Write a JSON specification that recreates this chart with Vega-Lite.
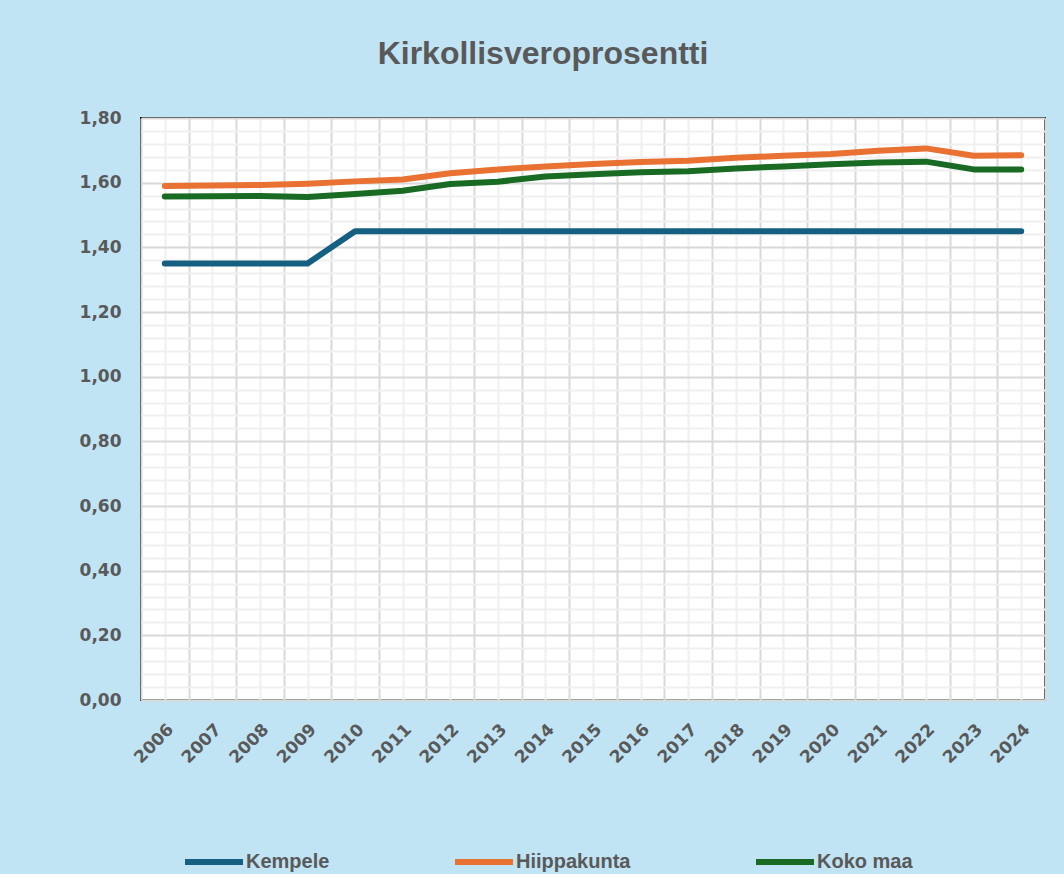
{
  "$schema": "https://vega.github.io/schema/vega-lite/v6.json",
  "width": 904,
  "height": 582,
  "autosize": {"type": "none"},
  "padding": {"left": 141, "top": 118, "right": 19, "bottom": 174},
  "background": "#C1E4F5",
  "config": {
    "view": {"fill": "white", "stroke": "#000000", "strokeWidth": 2},
    "axis": {"title": null}
  },
  "title": {
    "text": "Kirkollisveroprosentti",
    "font": "Liberation Sans",
    "fontSize": 32,
    "fontWeight": "bold",
    "color": "#595959",
    "anchor": "middle",
    "dx": -50,
    "offset": 38
  },
  "data": {
    "values": [
      {"year": 2006, "series": "Kempele", "value": 1.35},
      {"year": 2007, "series": "Kempele", "value": 1.35},
      {"year": 2008, "series": "Kempele", "value": 1.35},
      {"year": 2009, "series": "Kempele", "value": 1.35},
      {"year": 2010, "series": "Kempele", "value": 1.45},
      {"year": 2011, "series": "Kempele", "value": 1.45},
      {"year": 2012, "series": "Kempele", "value": 1.45},
      {"year": 2013, "series": "Kempele", "value": 1.45},
      {"year": 2014, "series": "Kempele", "value": 1.45},
      {"year": 2015, "series": "Kempele", "value": 1.45},
      {"year": 2016, "series": "Kempele", "value": 1.45},
      {"year": 2017, "series": "Kempele", "value": 1.45},
      {"year": 2018, "series": "Kempele", "value": 1.45},
      {"year": 2019, "series": "Kempele", "value": 1.45},
      {"year": 2020, "series": "Kempele", "value": 1.45},
      {"year": 2021, "series": "Kempele", "value": 1.45},
      {"year": 2022, "series": "Kempele", "value": 1.45},
      {"year": 2023, "series": "Kempele", "value": 1.45},
      {"year": 2024, "series": "Kempele", "value": 1.45},
      {"year": 2006, "series": "Hiippakunta", "value": 1.590},
      {"year": 2007, "series": "Hiippakunta", "value": 1.591},
      {"year": 2008, "series": "Hiippakunta", "value": 1.593},
      {"year": 2009, "series": "Hiippakunta", "value": 1.597},
      {"year": 2010, "series": "Hiippakunta", "value": 1.604},
      {"year": 2011, "series": "Hiippakunta", "value": 1.610},
      {"year": 2012, "series": "Hiippakunta", "value": 1.629},
      {"year": 2013, "series": "Hiippakunta", "value": 1.641},
      {"year": 2014, "series": "Hiippakunta", "value": 1.650},
      {"year": 2015, "series": "Hiippakunta", "value": 1.658},
      {"year": 2016, "series": "Hiippakunta", "value": 1.664},
      {"year": 2017, "series": "Hiippakunta", "value": 1.668},
      {"year": 2018, "series": "Hiippakunta", "value": 1.677},
      {"year": 2019, "series": "Hiippakunta", "value": 1.683},
      {"year": 2020, "series": "Hiippakunta", "value": 1.689},
      {"year": 2021, "series": "Hiippakunta", "value": 1.699},
      {"year": 2022, "series": "Hiippakunta", "value": 1.706},
      {"year": 2023, "series": "Hiippakunta", "value": 1.683},
      {"year": 2024, "series": "Hiippakunta", "value": 1.685},
      {"year": 2006, "series": "Koko maa", "value": 1.557},
      {"year": 2007, "series": "Koko maa", "value": 1.558},
      {"year": 2008, "series": "Koko maa", "value": 1.559},
      {"year": 2009, "series": "Koko maa", "value": 1.556},
      {"year": 2010, "series": "Koko maa", "value": 1.565},
      {"year": 2011, "series": "Koko maa", "value": 1.575},
      {"year": 2012, "series": "Koko maa", "value": 1.596},
      {"year": 2013, "series": "Koko maa", "value": 1.603},
      {"year": 2014, "series": "Koko maa", "value": 1.619},
      {"year": 2015, "series": "Koko maa", "value": 1.626},
      {"year": 2016, "series": "Koko maa", "value": 1.632},
      {"year": 2017, "series": "Koko maa", "value": 1.635},
      {"year": 2018, "series": "Koko maa", "value": 1.644},
      {"year": 2019, "series": "Koko maa", "value": 1.650},
      {"year": 2020, "series": "Koko maa", "value": 1.657},
      {"year": 2021, "series": "Koko maa", "value": 1.662},
      {"year": 2022, "series": "Koko maa", "value": 1.665},
      {"year": 2023, "series": "Koko maa", "value": 1.641},
      {"year": 2024, "series": "Koko maa", "value": 1.641}
    ]
  },
  "resolve": {"axis": {"x": "independent", "y": "independent"}},
  "layer": [
    {
      "mark": {"type": "line", "strokeOpacity": 0},
      "encoding": {
        "x": {
          "field": "year",
          "type": "quantitative",
          "scale": {"domain": [2005.5, 2024.5], "nice": false, "zero": false},
          "axis": {
            "orient": "bottom",
            "values": [2005.5, 2006.5, 2007.5, 2008.5, 2009.5, 2010.5, 2011.5, 2012.5, 2013.5, 2014.5, 2015.5, 2016.5, 2017.5, 2018.5, 2019.5, 2020.5, 2021.5, 2022.5, 2023.5, 2024.5],
            "labels": false,
            "ticks": false,
            "domain": false,
            "grid": true,
            "gridColor": "#D9D9D9",
            "gridWidth": 2
          }
        },
        "y": {
          "field": "value",
          "type": "quantitative",
          "scale": {"domain": [0, 1.8], "nice": false},
          "axis": {
            "orient": "left",
            "values": [0.04, 0.08, 0.12, 0.16, 0.24, 0.28, 0.32, 0.36, 0.44, 0.48, 0.52, 0.56, 0.64, 0.68, 0.72, 0.76, 0.84, 0.88, 0.92, 0.96, 1.04, 1.08, 1.12, 1.16, 1.24, 1.28, 1.32, 1.36, 1.44, 1.48, 1.52, 1.56, 1.64, 1.68, 1.72, 1.76],
            "labels": false,
            "ticks": false,
            "domain": false,
            "grid": true,
            "gridColor": "#F0F0F0",
            "gridWidth": 2
          }
        },
        "detail": {"field": "series"}
      }
    },
    {
      "mark": {"type": "line", "strokeWidth": 6, "strokeCap": "round", "strokeJoin": "round"},
      "encoding": {
        "x": {
          "field": "year",
          "type": "quantitative",
          "axis": {
            "orient": "bottom",
            "values": [2006, 2007, 2008, 2009, 2010, 2011, 2012, 2013, 2014, 2015, 2016, 2017, 2018, 2019, 2020, 2021, 2022, 2023, 2024],
            "format": "d",
            "labelAngle": -45,
            "labelFont": "DejaVu Sans",
            "labelFontWeight": "bold",
            "labelFontSize": 17,
            "labelColor": "#595959",
            "labelPadding": 21,
            "labelOverlap": false,
            "labelBound": false,
            "labelFlush": false,
            "ticks": false,
            "domain": true,
            "domainColor": "#D9D9D9",
            "domainWidth": 2,
            "grid": true,
            "gridColor": "#F0F0F0",
            "gridWidth": 2
          }
        },
        "y": {
          "field": "value",
          "type": "quantitative",
          "axis": {
            "orient": "left",
            "values": [0, 0.2, 0.4, 0.6, 0.8, 1.0, 1.2, 1.4, 1.6, 1.8],
            "labelExpr": "replace(format(datum.value, '.2f'), '.', ',')",
            "labelFont": "DejaVu Sans",
            "labelFontWeight": "bold",
            "labelFontSize": 17,
            "labelColor": "#595959",
            "labelPadding": 20,
            "labelOverlap": false,
            "labelFlush": false,
            "ticks": false,
            "domain": false,
            "grid": true,
            "gridColor": "#D9D9D9",
            "gridWidth": 2
          }
        },
        "color": {
          "field": "series",
          "type": "nominal",
          "scale": {"domain": ["Kempele", "Hiippakunta", "Koko maa"], "range": ["#156082", "#E97132", "#196B24"]},
          "legend": {
            "title": null,
            "orient": "none",
            "legendX": 41,
            "legendY": 712,
            "padding": 0,
            "direction": "horizontal",
            "columns": 3,
            "columnPadding": 113,
            "symbolType": "stroke",
            "symbolSize": 3364,
            "symbolStrokeWidth": 6,
            "labelOffset": 0,
            "labelFont": "Liberation Sans",
            "labelFontWeight": "bold",
            "labelFontSize": 20,
            "labelColor": "#595959",
            "labelLimit": 400
          }
        }
      }
    }
  ]
}
